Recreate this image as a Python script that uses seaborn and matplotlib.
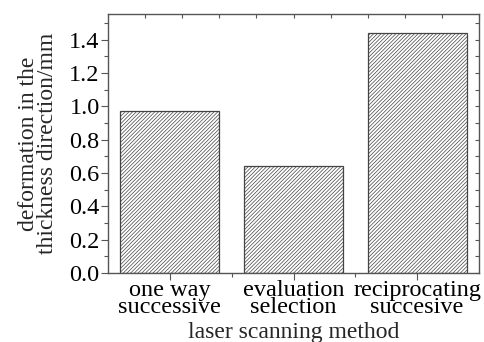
import matplotlib
matplotlib.use("Agg")
import matplotlib.pyplot as plt
import seaborn as sns
import numpy as np
import pandas as pd
from matplotlib.ticker import MultipleLocator, FixedLocator

categories = ["one way\nsuccessive", "evaluation\nselection", "reciprocating\nsuccesive"]
values = [0.973, 0.643, 1.44]
ylabel = "deformation in the\nthickness direction/mm"
xlabel = "laser scanning method"

sns.set_theme(style="white")
plt.rcParams['font.family'] = ['Liberation Serif', 'DejaVu Serif']
plt.rcParams['hatch.color'] = '#7a7a7a'
plt.rcParams['hatch.linewidth'] = 0.5

df = pd.DataFrame({"method": categories, "value": values})

fig = plt.figure(figsize=(4.84, 3.42), dpi=100)
ax = fig.add_axes([108/484, 1-273/342, (479-108)/484, (273-14)/342])
sns.barplot(data=df, x="method", y="value", ax=ax, color="white",
            edgecolor="#444444", linewidth=0.9, width=0.8)
for p in ax.patches:
    p.set_facecolor("white")
    p.set_hatch("/////////")

ax.set_xlim(-0.5, 2.5)
ax.set_ylim(0, 1.555)
ax.yaxis.set_major_locator(MultipleLocator(0.2))
ax.yaxis.set_minor_locator(MultipleLocator(0.1))
ax.set_yticklabels([f"{t:.1f}" for t in ax.get_yticks()])
ax.xaxis.set_minor_locator(FixedLocator([0.5, 1.5]))

for s in ax.spines.values():
    s.set_color("#555555")
    s.set_linewidth(1.0)

ax.tick_params(axis="both", which="major", labelsize=17.5, colors="#555555",
               labelcolor="black", width=0.8, pad=1)
ax.tick_params(axis="y", which="major", direction="out", length=5, left=True, right=False)
ax.tick_params(axis="y", which="minor", direction="out", length=3, left=True, right=False, width=0.8, colors="#555555")
ax.tick_params(axis="x", which="major", direction="out", length=5, bottom=True, top=False, pad=0)
ax.tick_params(axis="x", which="minor", direction="out", length=3, bottom=True, top=False, width=0.8, colors="#555555")
for lbl in ax.get_xticklabels():
    lbl.set_linespacing(0.75)

# mirrored top/right ticks
axt = ax.twiny()
axt.set_xlim(ax.get_xlim())
axt.xaxis.set_major_locator(FixedLocator(np.arange(-0.2, 2.5, 0.3)))
axt.tick_params(axis="x", direction="in", length=3, width=0.8, colors="#555555", labeltop=False)
axr = ax.twinx()
axr.set_ylim(ax.get_ylim())
axr.yaxis.set_major_locator(MultipleLocator(0.1))
axr.tick_params(axis="y", direction="in", length=3, width=0.8, colors="#555555", labelright=False)
for a in (axt, axr):
    for s in a.spines.values():
        s.set_visible(False)

ax.set_xlabel(xlabel, fontsize=17, labelpad=3)
ax.set_ylabel(ylabel, fontsize=17, labelpad=8, linespacing=0.9)

fig.savefig("out.png", dpi=100)
